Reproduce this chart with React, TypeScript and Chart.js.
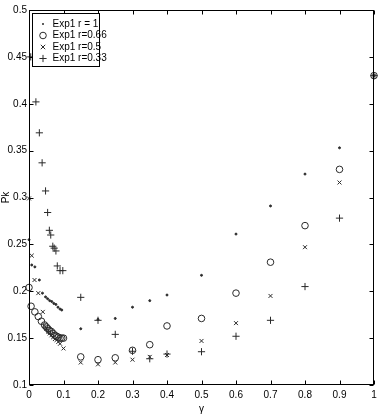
import React, { useEffect, useRef } from "react";
import { Chart, registerables } from "chart.js";

Chart.register(...registerables);

const FONT = "'Liberation Sans Narrow', 'Liberation Sans', Arial, sans-serif";
const MARK = "#2a2a2a";

const seriesLabels = ["Exp1 r = 1", "Exp1 r=0.66", "Exp1 r=0.5", "Exp1 r=0.33"];

// Exp1 r = 1 (dots)
const gammaR1 = [0, 0.008, 0.017, 0.03, 0.039, 0.048, 0.054, 0.06, 0.066, 0.072, 0.078, 0.084, 0.09, 0.095, 0.15, 0.2, 0.25, 0.3, 0.35, 0.4, 0.5, 0.6, 0.7, 0.8, 0.9, 1];
const pkR1 = [0.255, 0.228, 0.226, 0.212, 0.198, 0.194, 0.192, 0.19, 0.189, 0.187, 0.186, 0.183, 0.181, 0.18, 0.16, 0.17, 0.171, 0.183, 0.19, 0.196, 0.217, 0.261, 0.291, 0.325, 0.353, 0.43];

// Exp1 r=0.66 (circles)
const gammaR066 = [0, 0.006, 0.017, 0.027, 0.036, 0.045, 0.05, 0.055, 0.06, 0.065, 0.07, 0.075, 0.08, 0.085, 0.09, 0.095, 0.1, 0.15, 0.2, 0.25, 0.3, 0.35, 0.4, 0.5, 0.6, 0.7, 0.8, 0.9, 1];
const pkR066 = [0.204, 0.184, 0.178, 0.173, 0.168, 0.164, 0.162, 0.16, 0.158, 0.157, 0.155, 0.153, 0.152, 0.151, 0.15, 0.15, 0.15, 0.13, 0.127, 0.129, 0.137, 0.143, 0.163, 0.171, 0.198, 0.231, 0.27, 0.33, 0.43];

// Exp1 r=0.5 (x marks)
const gammaR05 = [0, 0.008, 0.016, 0.027, 0.04, 0.045, 0.05, 0.055, 0.06, 0.065, 0.07, 0.075, 0.08, 0.085, 0.09, 0.1, 0.15, 0.2, 0.25, 0.3, 0.35, 0.4, 0.5, 0.6, 0.7, 0.8, 0.9, 1];
const pkR05 = [0.299, 0.238, 0.212, 0.198, 0.178, 0.163, 0.16, 0.157, 0.155, 0.153, 0.151, 0.149, 0.148, 0.146, 0.144, 0.139, 0.124, 0.122, 0.124, 0.127, 0.13, 0.132, 0.147, 0.166, 0.195, 0.247, 0.316, 0.43];

// Exp1 r=0.33 (plus marks)
const gammaR033 = [0.005, 0.02, 0.03, 0.038, 0.048, 0.054, 0.059, 0.063, 0.069, 0.073, 0.078, 0.082, 0.09, 0.098, 0.15, 0.2, 0.25, 0.3, 0.35, 0.4, 0.5, 0.6, 0.7, 0.8, 0.9, 1];
const pkR033 = [0.45, 0.402, 0.369, 0.337, 0.307, 0.284, 0.265, 0.26, 0.248, 0.246, 0.243, 0.227, 0.222, 0.222, 0.1935, 0.169, 0.154, 0.136, 0.128, 0.133, 0.1355, 0.152, 0.169, 0.205, 0.278, 0.43];

const xTicks = [0, 0.1, 0.2, 0.3, 0.4, 0.5, 0.6, 0.7, 0.8, 0.9, 1];
const yTicks = [0.1, 0.15, 0.2, 0.25, 0.3, 0.35, 0.4, 0.45, 0.5];

const markerStyles = ["circle", "circle", "crossRot", "cross"];
const markerRadii = [1, 3.3, 2.8, 3.6];

function pairs(xs: number[], ys: number[]) {
  return xs.map((x, i) => ({ x, y: ys[i] }));
}

function drawMarker(ctx: CanvasRenderingContext2D, kind: number, x: number, y: number) {
  ctx.beginPath();
  if (kind === 0) {
    ctx.arc(x, y, 1, 0, Math.PI * 2);
    ctx.fillStyle = MARK;
    ctx.fill();
    return;
  }
  if (kind === 1) {
    ctx.arc(x, y, 3.3, 0, Math.PI * 2);
  } else if (kind === 2) {
    const r = 2.2;
    ctx.moveTo(x - r, y - r);
    ctx.lineTo(x + r, y + r);
    ctx.moveTo(x - r, y + r);
    ctx.lineTo(x + r, y - r);
  } else {
    const r = 3.6;
    ctx.moveTo(x - r, y);
    ctx.lineTo(x + r, y);
    ctx.moveTo(x, y - r);
    ctx.lineTo(x, y + r);
  }
  ctx.strokeStyle = MARK;
  ctx.lineWidth = 1;
  ctx.stroke();
}

const framePlugin = {
  id: "frameAndLegend",
  afterDatasetsDraw(chart: any) {
    const { ctx, chartArea: a, scales } = chart;
    ctx.save();
    ctx.strokeStyle = "#000";
    ctx.lineWidth = 1;
    const L = Math.round(a.left) + 0.5;
    const R = Math.round(a.right) - 0.5;
    const T = Math.round(a.top) + 0.5;
    const B = Math.round(a.bottom) - 0.5;
    ctx.strokeRect(L, T, R - L, B - T);
    const tl = 4;
    ctx.beginPath();
    xTicks.forEach((v) => {
      const px = Math.round(scales.x.getPixelForValue(v)) + 0.5;
      ctx.moveTo(px, B);
      ctx.lineTo(px, B - tl);
      ctx.moveTo(px, T);
      ctx.lineTo(px, T + tl);
    });
    yTicks.forEach((v) => {
      const py = Math.round(scales.y.getPixelForValue(v)) + 0.5;
      ctx.moveTo(L, py);
      ctx.lineTo(L + tl, py);
      ctx.moveTo(R, py);
      ctx.lineTo(R - tl, py);
    });
    ctx.stroke();

    // legend box
    const bx = L + 3;
    const by = T + 3;
    const bw = 67;
    const bh = 53;
    ctx.fillStyle = "#fff";
    ctx.fillRect(bx, by, bw, bh);
    ctx.strokeRect(bx, by, bw, bh);
    ctx.font = "10px " + FONT;
    ctx.textBaseline = "middle";
    ctx.textAlign = "left";
    seriesLabels.forEach((label, i) => {
      const ry = by + 10.5 + i * 11.5;
      drawMarker(ctx, i, bx + 10.5, ry);
      ctx.fillStyle = "#000";
      ctx.fillText(label, bx + 20, ry);
    });
    ctx.restore();
  },
};

export default function App() {
  const canvasRef = useRef<HTMLCanvasElement | null>(null);

  useEffect(() => {
    const canvas = canvasRef.current;
    if (!canvas) return;
    const dataSets = [
      pairs(gammaR1, pkR1),
      pairs(gammaR066, pkR066),
      pairs(gammaR05, pkR05),
      pairs(gammaR033, pkR033),
    ];
    const chart = new Chart(canvas, {
      type: "scatter",
      data: {
        datasets: dataSets.map((d, i) => ({
          label: seriesLabels[i],
          data: d,
          pointStyle: markerStyles[i] as any,
          pointRadius: markerRadii[i],
          pointHoverRadius: markerRadii[i],
          borderColor: MARK,
          backgroundColor: i === 0 ? MARK : "rgba(0,0,0,0)",
          borderWidth: 1,
          clip: false as any,
        })),
      },
      options: {
        animation: false,
        responsive: false,
        devicePixelRatio: 1,
        layout: { padding: { left: 0, top: 10, right: 7, bottom: 0 } },
        plugins: {
          legend: { display: false },
          tooltip: { enabled: false },
        },
        scales: {
          x: {
            type: "linear",
            min: 0,
            max: 1,
            afterFit: (s: any) => {
              s.height = 30;
            },
            afterBuildTicks: (s: any) => {
              s.ticks = xTicks.map((v) => ({ value: v }));
            },
            grid: { display: false, drawTicks: false },
            border: { display: false },
            ticks: {
              padding: 4,
              color: "#000",
              font: { family: FONT, size: 10 },
              callback: (v: any) => String(Number(Number(v).toFixed(2))),
            },
            title: {
              display: true,
              text: "γ",
              color: "#000",
              font: { family: FONT, size: 10 },
              padding: { top: 0, bottom: 0 },
            },
          },
          y: {
            type: "linear",
            min: 0.1,
            max: 0.5,
            afterFit: (s: any) => {
              s.width = 29;
            },
            afterBuildTicks: (s: any) => {
              s.ticks = yTicks.map((v) => ({ value: v }));
            },
            grid: { display: false, drawTicks: false },
            border: { display: false },
            ticks: {
              padding: 2,
              color: "#000",
              font: { family: FONT, size: 10 },
              callback: (v: any) => String(Number(Number(v).toFixed(2))),
            },
            title: {
              display: true,
              text: "Pk",
              color: "#000",
              font: { family: FONT, size: 10 },
              padding: { top: 0, bottom: 0 },
            },
          },
        },
      },
      plugins: [framePlugin],
    });
    return () => chart.destroy();
  }, []);

  return (
    <div style={{ position: "absolute", left: 0, top: 0, width: 381, height: 415, background: "#fff" }}>
      <canvas ref={canvasRef} width={381} height={415} style={{ display: "block" }} />
    </div>
  );
}
